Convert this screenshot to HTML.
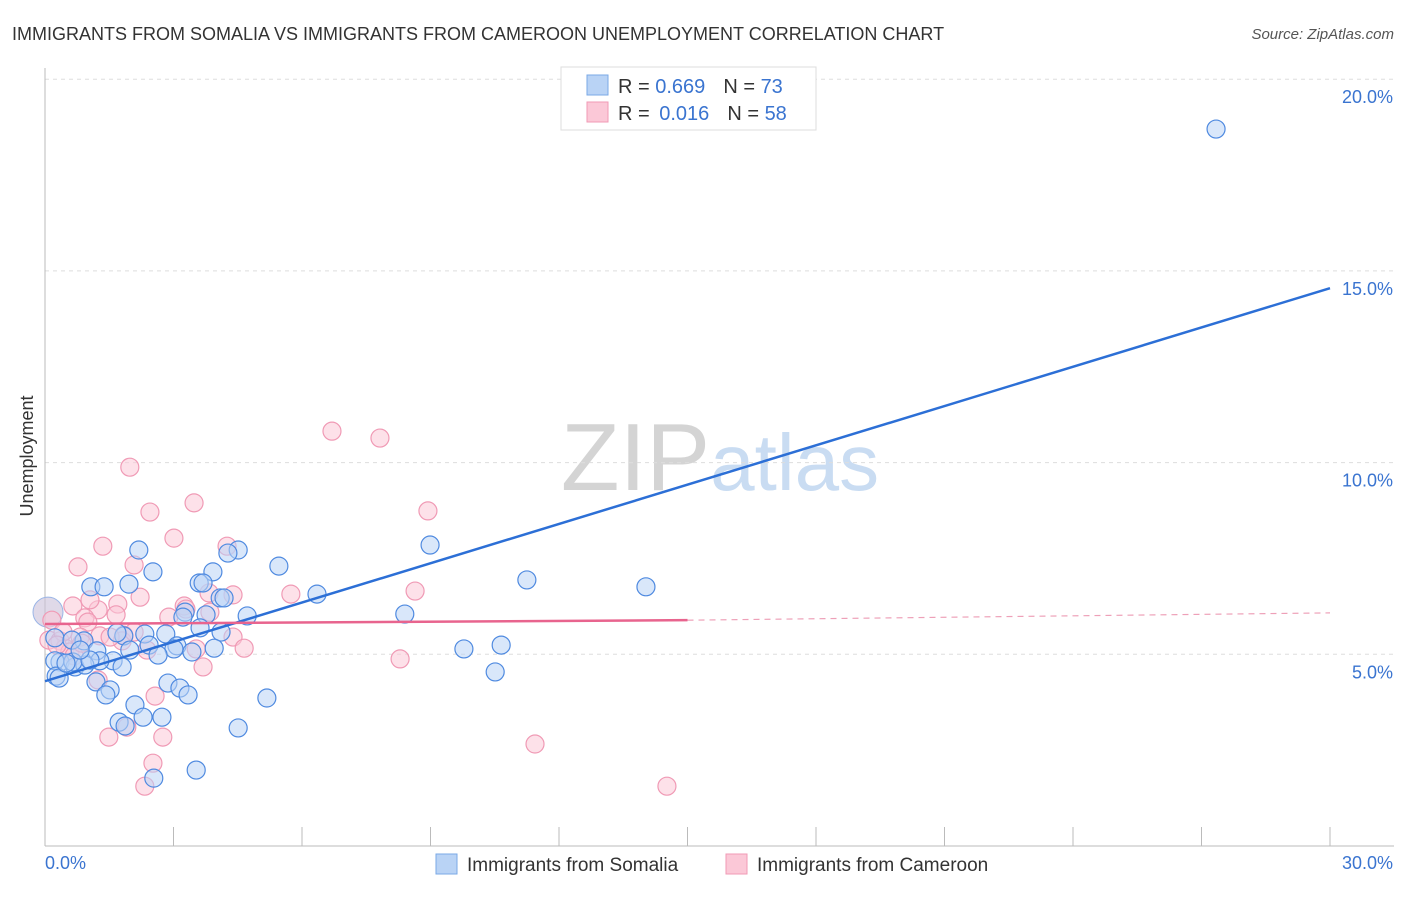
<!DOCTYPE html>
<html><head><meta charset="utf-8">
<style>
body{margin:0;background:#fff;font-family:"Liberation Sans",sans-serif;}
svg text{font-family:"Liberation Sans",sans-serif;}
</style></head>
<body>
<svg id="chart" width="1406" height="892" xmlns="http://www.w3.org/2000/svg">
<text x="12" y="40" font-size="18" fill="#333">IMMIGRANTS FROM SOMALIA VS IMMIGRANTS FROM CAMEROON UNEMPLOYMENT CORRELATION CHART</text>
<text x="1394" y="39" font-size="15" fill="#555" text-anchor="end" font-style="italic">Source: ZipAtlas.com</text>
<text x="720" y="490" font-size="96" text-anchor="middle" fill="#ddd" font-family="Liberation Serif"><tspan fill="#d4d4d4">ZIP</tspan><tspan fill="#c9dcf2" font-family="Liberation Sans" font-size="80">atlas</tspan></text>
<text transform="translate(33,456) rotate(-90)" font-size="18" fill="#333" text-anchor="middle">Unemployment</text>
<g id="grid"></g>
<g id="axes"></g>
<g id="points"></g>
<g id="lines"></g>
<g>
<rect x="561" y="67" width="255" height="63" fill="#fff" stroke="#ddd"/>
<rect x="587" y="75" width="21" height="20" fill="#b9d3f5" stroke="#7aa8e6"/>
<rect x="587" y="102" width="21" height="20" fill="#fbc8d7" stroke="#f09ab5"/>
<text x="618" y="93" font-size="20" fill="#333">R = <tspan fill="#3a74d0">0.669</tspan><tspan dx="18">N = </tspan><tspan fill="#3a74d0">73</tspan></text>
<text x="618" y="120" font-size="20" fill="#333">R = <tspan fill="#3a74d0" dx="4">0.016</tspan><tspan dx="18">N = </tspan><tspan fill="#3a74d0">58</tspan></text>
</g>
<g>
<rect x="436" y="854" width="21" height="20" fill="#b9d3f5" stroke="#7aa8e6"/>
<text x="467" y="871" font-size="19" fill="#333">Immigrants from Somalia</text>
<rect x="726" y="854" width="21" height="20" fill="#fbc8d7" stroke="#f09ab5"/>
<text x="757" y="871" font-size="19" fill="#333">Immigrants from Cameroon</text>
</g>
</svg>
<script>
const somaliaX=[27.34,2.19,4.51,4.27,8.99,5.46,2.52,3.92,11.25,14.03,1.96,3.60,1.07,1.38,3.69,4.09,4.18,6.35,8.40,4.72,3.76,3.27,3.22,2.82,2.33,1.84,3.62,4.11,0.91,0.23,0.63,3.08,3.95,2.43,1.68,10.65,9.78,3.01,3.43,2.64,1.21,1.59,0.35,0.23,1.28,1.80,0.70,0.93,0.65,10.51,0.26,0.33,1.19,1.52,2.87,3.15,3.34,1.42,5.18,2.10,2.29,2.73,1.73,1.87,4.51,2.54,3.53,1.05,0.49,0.82,1.98];
const somaliaY=[18.70,7.72,7.72,7.64,7.85,7.30,7.15,7.15,6.94,6.76,6.83,6.86,6.76,6.76,6.86,6.47,6.47,6.57,6.05,6.00,6.03,6.10,5.97,5.53,5.53,5.48,5.69,5.58,5.35,5.43,5.37,5.22,5.16,5.24,5.56,5.24,5.14,5.14,5.06,4.98,5.09,4.83,4.80,4.83,4.83,4.67,4.67,4.72,4.80,4.54,4.43,4.38,4.28,4.07,4.25,4.12,3.94,3.94,3.86,3.68,3.36,3.36,3.23,3.13,3.08,1.77,1.98,4.85,4.77,5.11,5.11];
const cameroonX=[6.70,7.82,1.98,3.48,2.45,8.94,3.01,1.35,4.25,0.77,2.08,2.22,5.74,8.64,3.83,4.39,1.70,0.65,1.24,3.25,3.29,2.89,1.66,0.93,1.00,1.84,1.28,4.39,0.82,0.09,0.35,1.80,4.65,3.53,2.38,8.29,0.47,0.58,0.68,3.69,1.24,2.57,1.49,2.75,1.91,11.44,2.52,2.33,14.52,0.16,0.86,0.42,1.52,1.05,3.85,2.08,0.28];
const cameroonY=[10.82,10.64,9.88,8.95,8.71,8.74,8.03,7.82,7.82,7.28,7.33,6.49,6.57,6.65,6.60,6.55,6.31,6.26,6.16,6.26,6.18,5.97,6.03,5.95,5.84,5.50,5.48,5.45,5.45,5.37,5.35,5.35,5.16,5.14,5.11,4.88,5.16,5.06,4.96,4.67,4.33,3.91,2.84,2.84,3.10,2.66,2.16,1.56,1.56,5.89,5.29,5.58,5.45,6.42,6.10,5.58,5.24];
const bigPoint=[0.07,6.10];
const somaliaTrend=[[0,4.30],[30,14.55]];
const cameroonTrend=[[0,5.79],[15,5.89],[30,6.08]];
const yTicks=[5,10,15,20];
const yTickLabels=["5.0%","10.0%","15.0%","20.0%"];
const xTickCount=10;

const NS="http://www.w3.org/2000/svg";
const X0=45,X1=1330,Y0=846,PPY=38.34;
const sx=v=>X0+(v/30)*(X1-X0);
const sy=v=>Y0-v*PPY;
function mk(tag,attrs,parent){const e=document.createElementNS(NS,tag);for(const k in attrs)e.setAttribute(k,attrs[k]);parent.appendChild(e);return e;}
const grid=document.getElementById('grid'),axes=document.getElementById('axes'),pts=document.getElementById('points'),lines=document.getElementById('lines');
yTicks.forEach((t,i)=>{
  const l=mk('line',{x1:X0,x2:1394,y1:sy(t),y2:sy(t),stroke:'#ddd','stroke-dasharray':'4,4'},grid);
  
  
  const tx=mk('text',{x:1393,y:sy(t)+24,'font-size':18,fill:'#3a74d0','text-anchor':'end'},axes);
  tx.textContent=yTickLabels[i];
  
  
});
const ax=mk('line',{x1:X0,x2:X0,y1:68,y2:846,stroke:'#bbb'},axes);


const bx=mk('line',{x1:X0,x2:1394,y1:846,y2:846,stroke:'#bbb'},axes);


for(let i=1;i<=xTickCount;i++){
  const t=mk('line',{x1:sx(i*3),x2:sx(i*3),y1:827,y2:846,stroke:'#bbb'},axes);
  
  
}
const xl0=mk('text',{x:45,y:869,'font-size':18,fill:'#3a74d0'},axes);xl0.textContent='0.0%';


const xl1=mk('text',{x:1393,y:869,'font-size':18,fill:'#3a74d0','text-anchor':'end'},axes);xl1.textContent='30.0%';



function dot(x,y,r,fill,stroke,name){
  const c=mk('circle',{cx:sx(x),cy:sy(y),r:r,fill:fill,'fill-opacity':0.55,stroke:stroke,'stroke-width':1.2},pts);
  
  
}
const bp=mk('circle',{cx:sx(bigPoint[0]),cy:sy(bigPoint[1]),r:15,fill:'#c9bfd9','fill-opacity':0.6,stroke:'#9ab5e6'},pts);


cameroonX.forEach((x,i)=>dot(x,cameroonY[i],9,'#fbc8d7','#f09ab5','cameroon-point'));
somaliaX.forEach((x,i)=>dot(x,somaliaY[i],9,'#b9d3f5','#4f8ae0','somalia-point'));

const bl=mk('line',{x1:sx(somaliaTrend[0][0]),y1:sy(somaliaTrend[0][1]),x2:sx(somaliaTrend[1][0]),y2:sy(somaliaTrend[1][1]),stroke:'#2c6fd6','stroke-width':2.5},lines);


const pl=mk('line',{x1:sx(cameroonTrend[0][0]),y1:sy(cameroonTrend[0][1]),x2:sx(cameroonTrend[1][0]),y2:sy(cameroonTrend[1][1]),stroke:'#e8648e','stroke-width':2.5},lines);


const pd=mk('line',{x1:sx(cameroonTrend[1][0]),y1:sy(cameroonTrend[1][1]),x2:sx(cameroonTrend[2][0]),y2:sy(cameroonTrend[2][1]),stroke:'#eea0b8','stroke-width':1.2,'stroke-dasharray':'6,5'},lines);


</script>
</body></html>
